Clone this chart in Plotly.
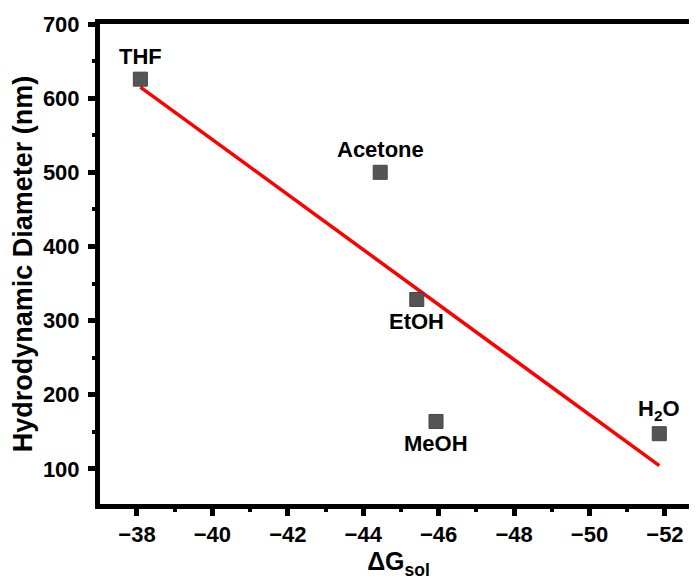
import numpy as np
import plotly.graph_objects as go

# Data
solvents = ["THF", "Acetone", "EtOH", "MeOH", "H<sub>2</sub>O"]
delta_g = [-38.09, -44.45, -45.42, -45.93, -51.85]
diameter = [625.6, 500.0, 328.5, 164.0, 147.5]
label_side = ["top", "top", "bottom", "bottom", "top"]

x_ticks = [-38, -40, -42, -44, -46, -48, -50, -52]
y_ticks = [100, 200, 300, 400, 500, 600, 700]

FONT = "Liberation Sans, Arial, sans-serif"

# Linear fit of diameter vs. delta G
slope, intercept = np.polyfit(delta_g, diameter, 1)
fit_x = np.array([min(delta_g), max(delta_g)])
fit_y = slope * fit_x + intercept

fig = go.Figure()
fig.add_trace(go.Scatter(
    x=fit_x, y=fit_y, mode="lines",
    line=dict(color="#ff0000", width=3.5),
    showlegend=False, hoverinfo="skip",
))
fig.add_trace(go.Scatter(
    x=delta_g, y=diameter, mode="markers",
    marker=dict(symbol="square", size=14, color="#555555",
                line=dict(color="#444444", width=1)),
    showlegend=False,
))

for name, xv, yv, side in zip(solvents, delta_g, diameter, label_side):
    fig.add_annotation(
        x=xv, y=yv, text=name, showarrow=False,
        xanchor="center",
        yanchor="bottom" if side == "top" else "top",
        yshift=8 if side == "top" else -8,
        font=dict(family=FONT, size=22, color="#000000", weight="bold"),
    )

axis_common = dict(
    showline=True, linecolor="#000000", linewidth=5,
    ticks="outside", ticklen=7, tickwidth=5, tickcolor="#000000",
    showgrid=False, zeroline=False,
    tickfont=dict(family=FONT, size=22, color="#000000", weight="bold"),
)

# the page body adds an 8px margin, so the figure is sized to fill the rest
fig.update_layout(
    width=689, height=580,
    margin=dict(l=92, r=0, t=16, b=84),
    paper_bgcolor="white", plot_bgcolor="white",
    xaxis=dict(
        range=[-37.02, -52.85],
        tickmode="array", tickvals=x_ticks,
        mirror=True,
        minor=dict(ticks="outside", ticklen=3, tickwidth=4, tickcolor="#000000", dtick=1, tick0=-38),
        title=dict(text="ΔG<sub>sol</sub>", standoff=8,
                   font=dict(family=FONT, size=25, color="#000000", weight="bold")),
        **axis_common,
    ),
    yaxis=dict(
        range=[52.7, 700],
        tickmode="array", tickvals=y_ticks,
        mirror=False,
        minor=dict(ticks="outside", ticklen=3, tickwidth=4, tickcolor="#000000", dtick=50, tick0=50),
        ticklabelstandoff=4,
        title=dict(text="Hydrodynamic Diameter (nm)", standoff=6,
                   font=dict(family=FONT, size=27, color="#000000", weight="bold")),
        **axis_common,
    ),
)

fig.write_html("out.html")
